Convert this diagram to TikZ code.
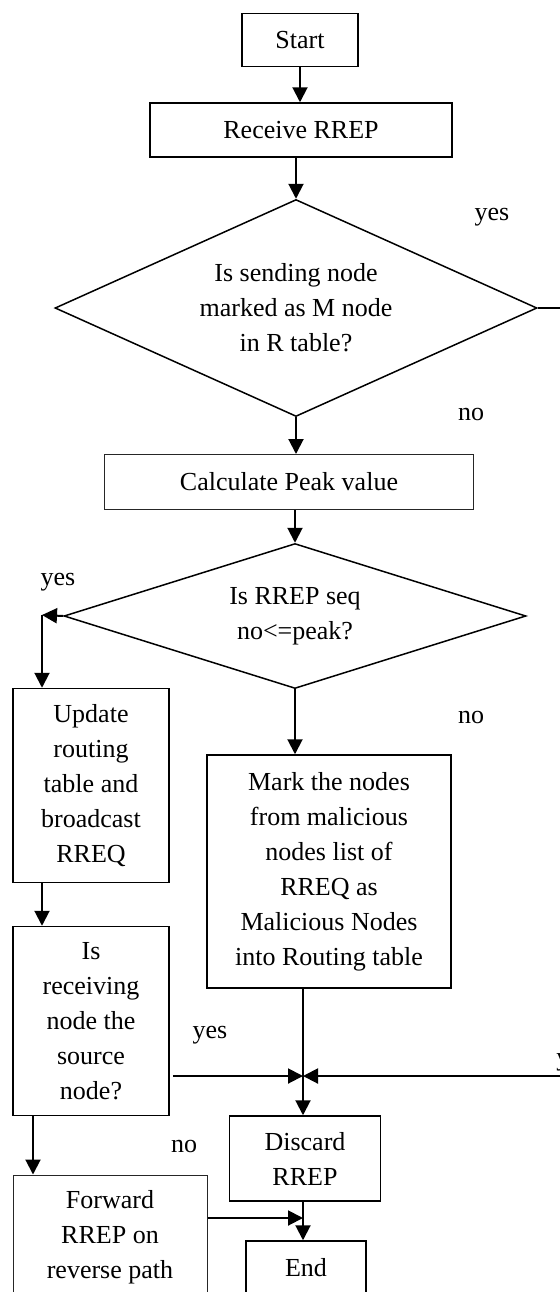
\documentclass[tikz,border=0pt]{standalone}
\usepackage{fontspec}
\setmainfont{Liberation Serif}
\usetikzlibrary{arrows.meta,shapes.geometric}
\begin{document}
\begin{tikzpicture}[x=0.5pt,y=-0.5pt,
  every node/.style={font=\fontsize{13}{17.5}\selectfont},
  box/.style={draw,line width=0.75pt,align=center,inner sep=0pt},
  thinbox/.style={box,line width=0.5pt,draw=black!85},
  decision/.style={draw,diamond,line width=0.75pt,align=center,inner sep=0pt},
  arr/.style={-{Triangle[length=7.5pt,width=7.5pt]},line width=1pt}]
  \useasboundingbox (0,0) rectangle (559,1292);
  % boxes
  \node[box,minimum width=58pt,minimum height=26.5pt] (start) at (300,40) {Start};
  \node[box,minimum width=151pt,minimum height=27pt] (recv) at (301,130) {Receive RREP};
  \node[decision,shape aspect=2.2,minimum width=241pt,minimum height=108.5pt] (dec1) at (296,308)
    {Is sending node\\marked as M node\\in R table?};
  \node[thinbox,minimum width=184.5pt,minimum height=27.5pt] (calc) at (289,482) {Calculate Peak value};
  \node[decision,shape aspect=3.2,minimum width=231pt,minimum height=72.5pt] (dec2) at (295,616)
    {Is RREP seq\\no<=peak?};
  \node[box,minimum width=78pt,minimum height=97pt] (upd) at (91,785.5)
    {Update\\routing\\table and\\broadcast\\RREQ};
  \node[box,minimum width=122pt,minimum height=116.5pt] (mark) at (329,871.5)
    {Mark the nodes\\from malicious\\nodes list of\\RREQ as\\Malicious Nodes\\into Routing table};
  \node[box,minimum width=78pt,minimum height=94.5pt] (isrecv) at (91,1021)
    {Is\\receiving\\node the\\source\\node?};
  \node[box,minimum width=75.5pt,minimum height=42.5pt] (disc) at (305,1158.5) {Discard\\RREP};
  \node[thinbox,minimum width=97pt,minimum height=62pt] (fwd) at (110,1237)
    {Forward\\RREP on\\reverse path};
  \node[box,minimum width=60pt,minimum height=27pt] (endn) at (306,1268) {End};
  % labels
  \node (yes1) at (492,217) {yes};
  \node (no1) at (471,414) {no};
  \node (yes2) at (58,582) {yes};
  \node (no2) at (471,717) {no};
  \node (yes3) at (210,1035) {yes};
  \node (no3) at (184,1146) {no};
  \node[anchor=west,inner sep=0pt] (yes4) at (556,1062) {yes};
  % connectors
  \coordinate (mout) at (580,308);
  \coordinate (ycorner) at (42,615);
  \coordinate (join) at (303,1076);
  \coordinate (yin) at (580,1076);
  \coordinate (fjoin) at (303,1218);
  \draw[arr] (start.south) -- (start.south |- recv.north);
  \draw[arr] (dec1.north |- recv.south) -- (dec1.north);
  \draw[arr] (dec1.east) -- (mout);
  \draw[arr] (dec1.south) -- (dec1.south |- calc.north);
  \draw[arr] (dec2.north |- calc.south) -- (dec2.north);
  \draw[arr] (dec2.west) -- (ycorner);
  \draw[arr] (ycorner) -- (ycorner |- upd.north);
  \draw[arr] (dec2.south) -- (dec2.south |- mark.north);
  \draw[arr] (ycorner |- upd.south) -- (ycorner |- isrecv.north);
  \draw[arr] (join |- mark.south) -- (join |- disc.north);
  \draw[arr] ([xshift=1.5pt]isrecv.east |- join) -- (join);
  \draw[arr] (yin) -- (join);
  \draw[arr] ([xshift=-29pt]isrecv.south) -- ([xshift=-29pt]isrecv.south |- fwd.north);
  \draw[arr] (fwd.east |- fjoin) -- (fjoin);
  \draw[arr] (join |- disc.south) -- (join |- endn.north);
\end{tikzpicture}
\end{document}
